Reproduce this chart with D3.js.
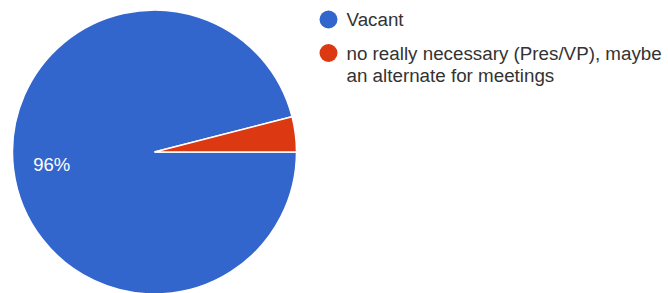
<!DOCTYPE html>
<html><head><meta charset="utf-8">
<script src="https://cdn.jsdelivr.net/npm/d3@7"></script>
<style>html,body{margin:0;padding:0;background:#fff;}svg{display:block;}</style>
</head><body>
<svg id="chart" width="668" height="293"></svg>
<script>
const categories = ["Vacant", "no really necessary (Pres/VP), maybe an alternate for meetings"];
const legendLines = [["Vacant"], ["no really necessary (Pres/VP), maybe", "an alternate for meetings"]];
const values = [96, 4];
const colors = ["#3366cc", "#dc3912"];

const svg = d3.select("#chart");
const cx = 154.5, cy = 152, r = 142;
const data = categories.map((c, i) => ({name: c, value: values[i], color: colors[i], lines: legendLines[i]}));
const pie = d3.pie().value(d => d.value).sort(null).startAngle(Math.PI/2).endAngle(Math.PI/2 + 2*Math.PI);
const arcs = pie(data);
const arc = d3.arc().innerRadius(0).outerRadius(r);
const g = svg.append("g").attr("transform", `translate(${cx},${cy})`);
g.selectAll("path").data(arcs).join("path")
  .attr("d", arc).attr("fill", d => d.data.color)
  .attr("stroke", "#fff").attr("stroke-width", 1.5);
const labelArc = d3.arc().innerRadius(r*0.73).outerRadius(r*0.73);
const total = d3.sum(values);
g.selectAll("text").data(arcs.filter(d => d.data.value/total > 0.05)).join("text")
  .attr("transform", d => `translate(${labelArc.centroid(d)})`)
  .attr("text-anchor", "middle").attr("dy", "0.35em")
  .attr("fill", "#fff").attr("font-family", "Liberation Sans, Arial, sans-serif").attr("font-size", 18.5)
  .text(d => Math.round(d.data.value/total*100) + "%");

const lg = svg.append("g").attr("font-family", "Liberation Sans, Arial, sans-serif").attr("font-size", 18.8).attr("fill", "#333");
const legendY = [19.5, 53];
data.forEach((d, i) => {
  lg.append("circle").attr("cx", 328.5).attr("cy", legendY[i]).attr("r", 9).attr("fill", d.color);
  d.lines.forEach((line, j) => {
    lg.append("text").attr("x", 346.5).attr("y", legendY[i] + 6.8 + j*22.5).text(line);
  });
});
</script>
</body></html>
